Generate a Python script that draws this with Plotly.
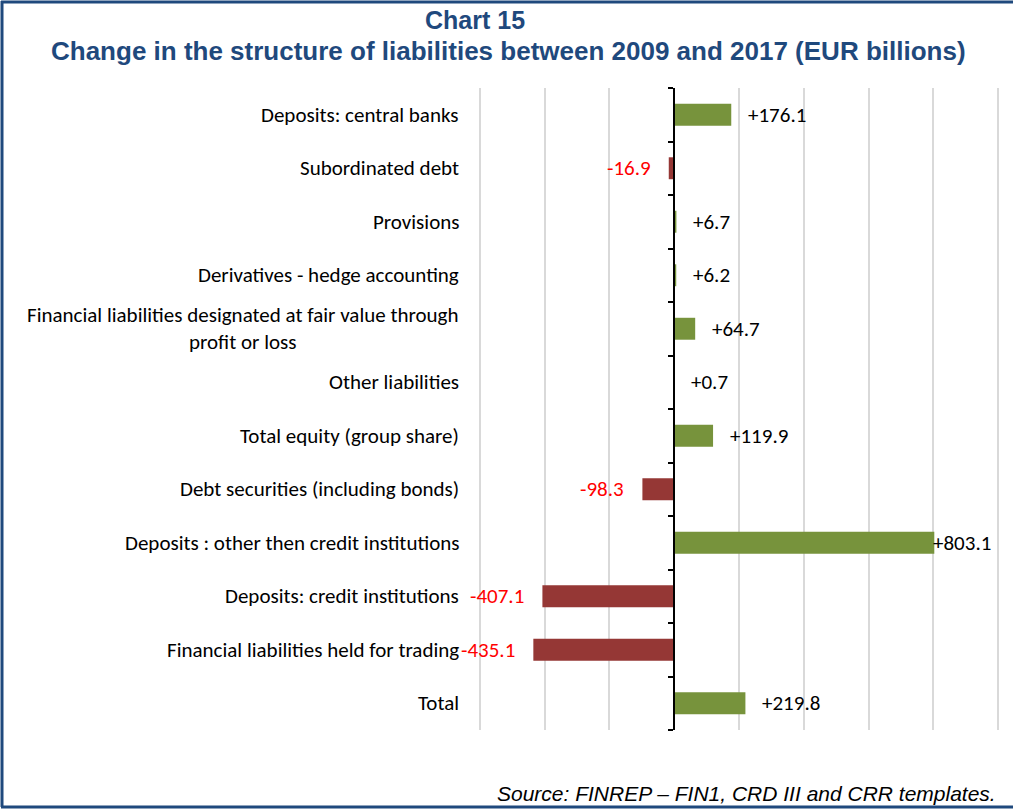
import plotly.graph_objects as go

categories = [
    "Deposits: central banks",
    "Subordinated debt",
    "Provisions",
    "Derivatives - hedge accounting",
    "Financial liabilities designated at fair value through<br>profit or loss",
    "Other liabilities",
    "Total equity (group share)",
    "Debt securities (including bonds)",
    "Deposits : other then credit institutions",
    "Deposits: credit institutions",
    "Financial liabilities held for trading",
    "Total",
]
values = [176.1, -16.9, 6.7, 6.2, 64.7, 0.7, 119.9, -98.3, 803.1, -407.1, -435.1, 219.8]

x_min, x_max, x_step = -600, 1000, 200

W, H = 1013, 810
ML, MR, MT, MB = 478, 13, 88, 80
PW = W - ML - MR
PH = H - MT - MB
pad = 6

GREEN = "#77933C"
RED = "#953735"
NAVY = "#1F497D"
FONT = "Calibri, Carlito, Lato, sans-serif"
LBL = 21

colors = [GREEN if v >= 0 else RED for v in values]
ids = list(range(len(categories)))

fig = go.Figure()
fig.add_trace(go.Bar(
    x=values, y=ids, orientation="h",
    marker=dict(color=colors, line=dict(width=0)),
    width=0.41, hoverinfo="skip",
))

def px(xp):
    return (xp - ML) / PW

def py(yp):
    return (H - yp - MB) / PH

annotations = []
for i, (c, v) in enumerate(zip(categories, values)):
    annotations.append(dict(
        x=px(480), xref="paper", y=i, yref="y", text=c, showarrow=False,
        xanchor="right", align="center", xshift=-19,
        font=dict(family=FONT, size=LBL, color="#000000"),
    ))
    if v >= 0:
        shift = 15 if v < 700 else -3
        annotations.append(dict(
            x=v, xref="x", y=i, yref="y", text=f"+{v:.1f}", showarrow=False,
            xanchor="left", xshift=shift,
            font=dict(family=FONT, size=LBL, color="#000000"),
        ))
    else:
        annotations.append(dict(
            x=v, xref="x", y=i, yref="y", text=f"{v:.1f}", showarrow=False,
            xanchor="right", xshift=-16,
            font=dict(family=FONT, size=LBL, color="#FF0000"),
        ))

annotations.append(dict(
    x=px(475), xref="paper", y=py(20), yref="paper",
    text="<b>Chart 15</b>", showarrow=False, xanchor="center", yanchor="middle",
    font=dict(family="Arial, Liberation Sans, sans-serif", size=25, color=NAVY),
))
annotations.append(dict(
    x=px(508), xref="paper", y=py(51), yref="paper",
    text="<b>Change in the structure of liabilities between 2009 and 2017 (EUR billions)</b>",
    showarrow=False, xanchor="center", yanchor="middle",
    font=dict(family="Arial, Liberation Sans, sans-serif", size=26, color=NAVY),
))
annotations.append(dict(
    x=px(998), xref="paper", y=py(793), yref="paper",
    text="<i>Source: FINREP – FIN1, CRD III and CRR templates.</i>",
    showarrow=False, xanchor="right", yanchor="middle",
    font=dict(family="Arial, Liberation Sans, sans-serif", size=21, color="#000000"),
))

shapes = [
    dict(type="line", xref="paper", yref="paper", x0=px(2), x1=px(2), y0=py(1), y1=py(807),
         line=dict(color=NAVY, width=3)),
    dict(type="line", xref="paper", yref="paper", x0=px(1), x1=px(1013), y0=py(2), y1=py(2),
         line=dict(color=NAVY, width=3)),
    dict(type="line", xref="paper", yref="paper", x0=px(1), x1=px(1013), y0=py(807), y1=py(807),
         line=dict(color=NAVY, width=3)),
]

zero_pos = (0 - (x_min - pad)) / ((x_max + pad) - (x_min - pad))

fig.update_layout(
    width=W, height=H,
    margin=dict(l=ML, r=MR, t=MT, b=MB),
    paper_bgcolor="white", plot_bgcolor="white",
    showlegend=False,
    annotations=annotations,
    shapes=shapes,
    xaxis=dict(
        range=[x_min - pad, x_max + pad], tickmode="linear", tick0=x_min, dtick=x_step,
        showgrid=True, gridcolor="#D9D9D9", gridwidth=1.5,
        showticklabels=False, zeroline=False, showline=False, ticks="",
        domain=[0, 1],
    ),
    yaxis=dict(
        range=[len(categories) - 0.5, -0.5],
        tickmode="array", tickvals=[i + 0.5 for i in range(-1, len(categories))],
        ticktext=[""] * (len(categories) + 1),
        ticks="outside", ticklen=5, tickcolor="#000000", tickwidth=1.5,
        showgrid=False, zeroline=False,
        showline=True, linecolor="#000000", linewidth=1.5,
        anchor="free", position=zero_pos,
    ),
)

fig.write_html("out.html", config={"displayModeBar": False},
               post_script="document.body.style.margin='0';")
